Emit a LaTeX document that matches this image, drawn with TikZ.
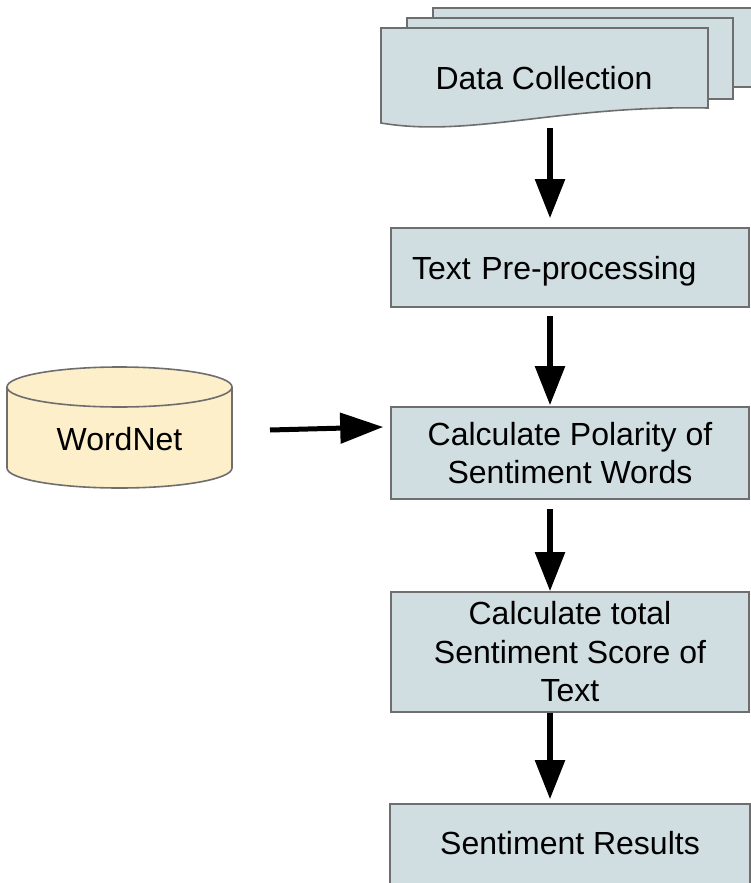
\documentclass[tikz,border=0pt]{standalone}
\usepackage{fontspec}
\setmainfont{Liberation Sans}
\usetikzlibrary{arrows.meta,calc}
\definecolor{boxfill}{HTML}{D0DEE2}
\definecolor{boxline}{HTML}{6E6E6E}
\definecolor{dbfill}{HTML}{FCEFC9}
\tikzset{
  sheet/.style={draw=boxline, line width=1.6pt, fill=boxfill},
  stepbox/.style={draw=boxline, line width=1.6pt, fill=boxfill, minimum width=358pt,
    inner sep=0pt, align=center, font=\fontsize{32}{38.5}\selectfont},
  label32/.style={inner sep=0pt, align=center, font=\fontsize{32}{38.5}\selectfont},
  flowarrow/.style={line width=5.5pt, -{Triangle[width=29pt,length=39pt]}},
}
\begin{document}
\begin{tikzpicture}[x=1pt,y=-1pt]
\useasboundingbox (0,0) rectangle (750,883);
% multi-document
\path[sheet] (433,8) rectangle (762,87);
\path[sheet] (407,18) rectangle (733,99);
\path[sheet] (381,28) -- (708,28) -- (708,108)
   .. controls (560,105) and (470,138) .. (381,123) -- cycle;
\node[label32] (doc) at (544,78) {Data Collection};
\coordinate (docout) at (550,128);
% process boxes
\node[stepbox, minimum height=79pt, text width=316pt, align=left, inner xsep=21pt, text depth=0pt]
  (pre) at (570,267.5) {Text Pre-processing};
\node[stepbox, minimum height=92pt] (pol) at (570,453) {Calculate Polarity of\\Sentiment Words};
\node[stepbox, minimum height=120pt] (tot) at (570,652) {Calculate total\\Sentiment Score of\\Text};
\node[stepbox, draw=none, minimum height=76pt] (res) at (570,843) {Sentiment Results};
\fill[boxfill] ([yshift=0.5pt]res.south west) rectangle ([yshift=-20pt]res.south east);
\draw[boxline, line width=1.6pt] ([yshift=-20pt]res.south west) -- (res.north west)
   -- (res.north east) -- ([yshift=-20pt]res.south east);
% database
\path[fill=dbfill, draw=boxline, line width=1.6pt]
  (7,387) -- (7,468) arc[start angle=180, end angle=360, x radius=112.5pt, y radius=20pt]
  -- (232,387) arc[start angle=0, end angle=180, x radius=112.5pt, y radius=20pt] -- cycle;
\draw[boxline, line width=1.6pt] (7,387) arc[start angle=180, end angle=360, x radius=112.5pt, y radius=20pt];
\node[label32] (wn) at (119.5,439) {WordNet};
\coordinate (wnout) at (270,430);
% arrows
\draw[flowarrow] (docout) -- ([xshift=-20pt,yshift=9pt]pre.north);
\draw[flowarrow] ([xshift=-20pt,yshift=-8pt]pre.south) -- ([xshift=-20pt,yshift=1pt]pol.north);
\draw[flowarrow] ([xshift=-20pt,yshift=-9pt]pol.south) -- ([xshift=-20pt]tot.north);
\draw[flowarrow] ([xshift=-20pt]tot.south) -- ([xshift=-20pt,yshift=5pt]res.north);
\draw[line width=5pt, -{Triangle[width=30pt,length=43pt]}] (wnout) -- ([xshift=-7pt,yshift=26pt]pol.west);
\end{tikzpicture}
\end{document}
